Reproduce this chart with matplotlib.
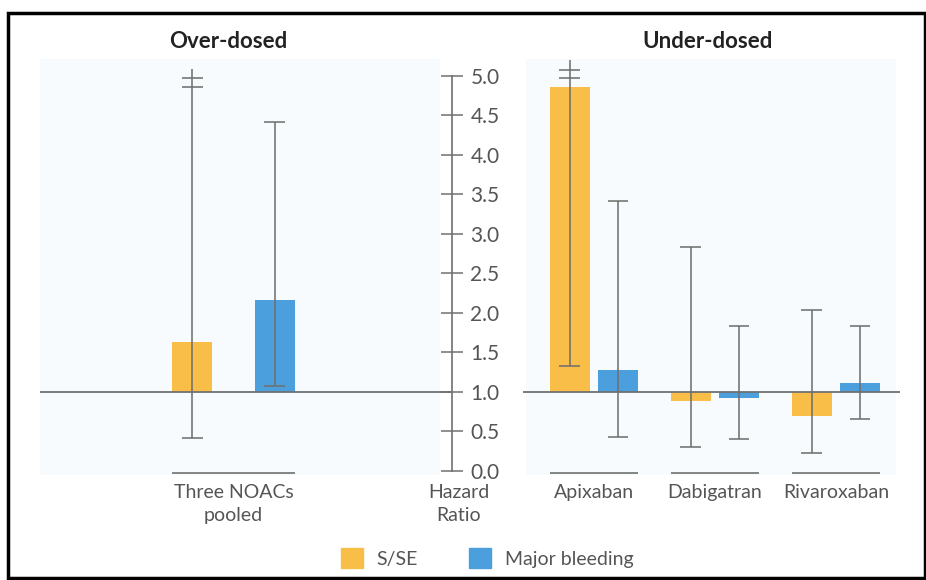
import matplotlib
matplotlib.use('Agg')
import matplotlib.pyplot as plt
from matplotlib.patches import Rectangle, Patch
import numpy as np

plt.rcParams['font.family'] = ['Lato', 'DejaVu Sans']

# data: hazard ratios with 95% CI (upper limits above 5 are drawn broken)
over_groups = ['Three NOACs\npooled']
under_groups = ['Apixaban', 'Dabigatran', 'Rivaroxaban']

over_sse = [1.63]
over_sse_lo = [0.42]
over_sse_hi = [5.09]
over_sse_broken = [True]
over_bleed = [2.17]
over_bleed_lo = [1.08]
over_bleed_hi = [4.42]
over_bleed_broken = [False]

under_sse = [4.86, 0.89, 0.69]
under_sse_lo = [1.33, 0.30, 0.23]
under_sse_hi = [5.20, 2.83, 2.04]
under_sse_broken = [True, False, False]
under_bleed = [1.28, 0.92, 1.11]
under_bleed_lo = [0.43, 0.40, 0.66]
under_bleed_hi = [3.42, 1.84, 1.83]
under_bleed_broken = [False, False, False]

hr_ticks = np.arange(0, 5.01, 0.5)

# layout / style
yellow = '#f8be47'
blue = '#4b9fdc'
grey = '#707070'
text_grey = '#555555'
bar_w = 0.33
cap = 0.085
over_x = np.array([-2.98])
under_x = np.arange(len(under_groups), dtype=float)
axis_x = -1.17

fig = plt.figure(figsize=(9.26, 5.80), dpi=100)
ax = fig.add_axes([0, 0, 1, 1])
ax.set_xlim(-4.909, 2.744)
ax.set_ylim(-1.380, 5.962)
ax.patch.set_alpha(0)

# very faint panel backgrounds
ax.add_patch(Rectangle((-4.58, -0.05), 3.31, 5.27, color='#f8fbfd', zorder=0, lw=0))
ax.add_patch(Rectangle((-0.56, -0.05), 3.06, 5.27, color='#f8fbfd', zorder=0, lw=0))


def draw_err(x, lo, hi, broken):
    for xi, l, h, b in zip(x, lo, hi, broken):
        ax.vlines(xi, l, h, color=grey, lw=1.15, zorder=4)
        ax.hlines(l, xi - cap, xi + cap, color=grey, lw=1.15, zorder=4)
        if b:
            ax.hlines([h - 0.12, h - 0.23], xi - cap, xi + cap, color=grey, lw=1.15, zorder=4)
        else:
            ax.hlines(h, xi - cap, xi + cap, color=grey, lw=1.15, zorder=4)


def draw_group(x, off, sse, sse_lo, sse_hi, sse_b, bl, bl_lo, bl_hi, bl_b, labels):
    ax.bar(x - off, np.array(sse) - 1, bottom=1, width=bar_w, color=yellow, zorder=2)
    ax.bar(x + off, np.array(bl) - 1, bottom=1, width=bar_w, color=blue, zorder=2)
    draw_err(x - off, sse_lo, sse_hi, sse_b)
    draw_err(x + off, bl_lo, bl_hi, bl_b)
    for xi, lab in zip(x, labels):
        ax.hlines(-0.03, xi - off - bar_w / 2, xi + off + bar_w / 2, color=grey, lw=1.2)
        ax.text(xi, -0.165, lab, ha='center', va='top', fontsize=14,
                color=text_grey, linespacing=1.45)


draw_group(over_x, 0.34, over_sse, over_sse_lo, over_sse_hi, over_sse_broken,
           over_bleed, over_bleed_lo, over_bleed_hi, over_bleed_broken, over_groups)
draw_group(under_x, 0.2, under_sse, under_sse_lo, under_sse_hi, under_sse_broken,
           under_bleed, under_bleed_lo, under_bleed_hi, under_bleed_broken, under_groups)

# reference line at HR = 1
ax.hlines(1, -4.58, axis_x, color=grey, lw=1.3, zorder=3)
ax.hlines(1, -0.587, 2.53, color=grey, lw=1.3, zorder=3)

# central hazard ratio axis
for s in ['left', 'top', 'bottom']:
    ax.spines[s].set_visible(False)
ax.spines['right'].set_position(('data', axis_x))
ax.spines['right'].set_bounds(0, 5)
ax.spines['right'].set_color(grey)
ax.spines['right'].set_linewidth(1.2)
ax.yaxis.tick_right()
ax.set_yticks(hr_ticks)
ax.set_yticklabels([f'{t:.1f}' for t in hr_ticks])
ax.tick_params(axis='y', direction='inout', length=16, width=1.1, color=grey,
               labelsize=15, labelcolor=text_grey, pad=5)
ax.set_xticks([])
ax.text(-1.12, -0.165, 'Hazard\nRatio', ha='center', va='top', fontsize=14,
        color=text_grey, linespacing=1.45)

# panel titles
ax.text(-3.02, 5.44, 'Over-dosed', ha='center', va='center', fontsize=16,
        fontweight='bold', color='#222222')
ax.text(0.94, 5.44, 'Under-dosed', ha='center', va='center', fontsize=16,
        fontweight='bold', color='#222222')

# legend
handles = [Patch(color=yellow), Patch(color=blue)]
leg = fig.legend(handles, ['S/SE', 'Major bleeding'], loc='center',
                 bbox_to_anchor=(487 / 926, 1 - 558 / 580), ncol=2, frameon=False,
                 handlelength=1.15, handleheight=1.15, handletextpad=0.7,
                 columnspacing=2.6, fontsize=14)
for t in leg.get_texts():
    t.set_color(text_grey)

# outer frame
fig.add_artist(Rectangle((8 / 926, 2 / 580), 917 / 926, 565 / 580,
                         transform=fig.transFigure, fill=False, lw=2.5, ec='black'))

fig.savefig('out.png', dpi=100)
